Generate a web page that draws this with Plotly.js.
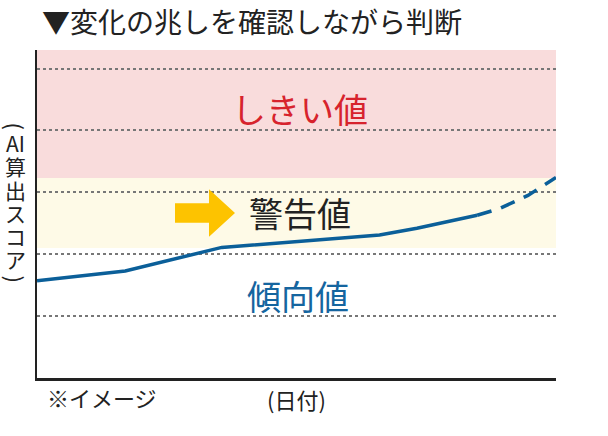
<!DOCTYPE html>
<html>
<head>
<meta charset="utf-8">
<script src="https://cdn.plot.ly/plotly-3.0.1.min.js"></script>
<style>html,body{margin:0;padding:0;background:#fff;}#chart{width:608px;height:436px;}</style>
</head>
<body>
<div id="chart"></div>
<script>
// ---- data ----
const solidX = [0, 17, 35.6, 66, 73.2, 80.5, 84.8];
const solidY = [1.57, 1.73, 2.11, 2.31, 2.42, 2.55, 2.63];
const dashX = [84.8, 89.2, 94.6, 100];
const dashY = [2.63, 2.74, 2.95, 3.24];
const bandNames = ["しきい値", "警告値", "傾向値"];
const bandLow = [3.23, 2.10, 0];
const bandHigh = [5.3, 3.23, 2.10];
const bandColors = ["#f9dcdc", "#fefae7", "rgba(0,0,0,0)"];
const titleText = "▼変化の兆しを確認しながら判断";
const yLabelChars = ["(", "AI", "算", "出", "ス", "コ", "ア", ")"];
const xLabel = "(日付)";
const noteText = "※イメージ";

// ---- layout helpers ----
const W = 608, H = 436;
const L = 37, R = 52, T = 50, B = 58;
const pw = W - L - R, ph = H - T - B;
const px = x => (x - L) / pw;
const py = y => (H - B - y) / ph;
const FONT = "Noto Sans CJK JP, Noto Sans, sans-serif";
const BLUE = "#0b5f99";

const traces = [
  {x: solidX, y: solidY, mode: "lines", line: {color: BLUE, width: 3.5}, hoverinfo: "skip"},
  {x: dashX, y: dashY, mode: "lines", line: {color: BLUE, width: 3.5, dash: "15px,10px"}, hoverinfo: "skip"}
];

const shapes = [];
for (let i = 0; i < bandNames.length; i++) {
  shapes.push({type: "rect", xref: "paper", yref: "y", x0: 0, x1: 1, y0: bandLow[i], y1: bandHigh[i],
    fillcolor: bandColors[i], line: {width: 0}, layer: "below"});
}
// yellow arrow
const arrowPts = [[175,203.3],[209,203.3],[209,189.3],[235,213],[209,236.7],[209,222.7],[175,222.7]];
shapes.push({type: "path", xref: "paper", yref: "paper",
  path: "M" + arrowPts.map(p => px(p[0]).toFixed(4) + "," + py(p[1]).toFixed(4)).join(" L") + " Z",
  fillcolor: "#fdc300", line: {width: 0}, layer: "above"});

const bandTextColors = ["#d7232d", "#222222", "#15659f"];
const bandTextPos = [[300, 108], [300, 212], [298, 295]];
const annotations = [];
for (let i = 0; i < bandNames.length; i++) {
  annotations.push({text: bandNames[i], xref: "paper", yref: "paper",
    x: px(bandTextPos[i][0]), y: py(bandTextPos[i][1]), xanchor: "center", yanchor: "middle",
    showarrow: false, font: {family: FONT, size: 34, color: bandTextColors[i]}});
}
const yCharPos = [126, 143, 166, 190, 213, 236, 259, 279];
yLabelChars.forEach((c, i) => {
  const isParen = (i === 0 || i === yLabelChars.length - 1);
  annotations.push({text: c, xref: "paper", yref: "paper", x: px(15.5), y: py(yCharPos[i]),
    xanchor: "center", yanchor: "middle", showarrow: false, textangle: isParen ? 90 : 0,
    borderpad: 0, font: {family: FONT, size: isParen ? 22 : 21, color: "#222"}});
});
annotations.push({text: noteText, xref: "paper", yref: "paper", x: px(45), y: py(397),
  xanchor: "left", yanchor: "middle", showarrow: false, font: {family: FONT, size: 22, color: "#222"}});
annotations.push({text: xLabel, xref: "paper", yref: "paper", x: px(296), y: py(399),
  xanchor: "center", yanchor: "middle", showarrow: false, font: {family: FONT, size: 22, color: "#222"}});

const layout = {
  width: W, height: H,
  margin: {l: L, r: R, t: T, b: B, pad: 0},
  paper_bgcolor: "#fff", plot_bgcolor: "#fff",
  showlegend: false,
  title: {text: titleText, xref: "container", yref: "container", x: 42 / W, xanchor: "left",
    y: 1 - 23 / H, yanchor: "middle", font: {family: FONT, size: 28, color: "#222"}},
  xaxis: {range: [0, 100], showline: true, linecolor: "#222", linewidth: 2.5, showgrid: false,
    zeroline: false, showticklabels: false, ticks: "", fixedrange: true},
  yaxis: {range: [0, 5.3], showline: true, linecolor: "#222", linewidth: 2.5, showgrid: true,
    gridcolor: "#777", gridwidth: 2, griddash: "dot", tick0: 0, dtick: 1, zeroline: false,
    showticklabels: false, ticks: "", fixedrange: true},
  shapes: shapes,
  annotations: annotations
};

Plotly.newPlot("chart", traces, layout, {staticPlot: true, displayModeBar: false});
</script>
</body>
</html>
